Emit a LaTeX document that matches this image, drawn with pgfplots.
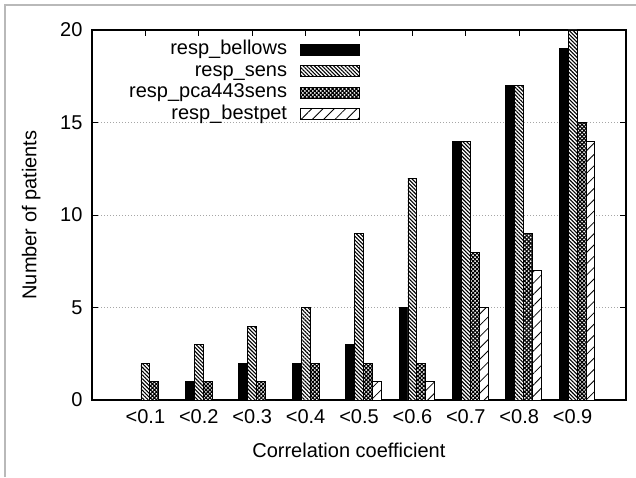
\documentclass[border=0pt]{standalone}
\usepackage{fontspec}
\setmainfont{Liberation Sans}
\usepackage{pgfplots}
\pgfplotsset{compat=1.18}
\usetikzlibrary{patterns.meta}
\newcommand{\fsz}{\fontsize{20}{23}\selectfont}

\pgfplotsset{
  boxleg/.style={legend image code/.code={\draw[##1, draw=black, line width=0.8pt] (0pt,-5.5pt) rectangle (59pt,5.5pt);}},
}

\begin{document}
\begin{tikzpicture}
\useasboundingbox (0,0) rectangle (636pt,477pt);
\draw[gray!55, line width=1.5pt] (5pt,0) -- (5pt,472pt) -- (636pt,472pt);
\begin{axis}[
    at={(92pt,77pt)}, anchor=south west,
    scale only axis,
    width=534pt, height=370pt,
    xmin=0, xmax=10,
    ymin=0, ymax=20,
    ybar,
    bar width=0.1667,
    xtick={1,2,3,4,5,6,7,8,9},
    xticklabels={{<0.1},{<0.2},{<0.3},{<0.4},{<0.5},{<0.6},{<0.7},{<0.8},{<0.9}},
    ytick={0,5,10,15,20},
    tick align=inside,
    major tick length=6pt,
    axis line style={line width=1.4pt},
    every tick/.style={black, line width=1pt},
    ymajorgrids,
    grid style={gray!70, line width=0.8pt, dash pattern=on 0.8pt off 2.2pt},
    /pgf/number format/assume math mode=true,
    tick label style={font=\fsz},
    xticklabel style={yshift=-6pt},
    yticklabel style={xshift=-6pt},
    label style={font=\fsz},
    xlabel={Correlation coefficient},
    ylabel={Number of patients},
    xlabel style={at={(axis description cs:0.481,-0.135)}, anchor=center},
    ylabel style={at={(axis description cs:-0.114,0.5)}, anchor=center},
    legend cell align=right,
    legend plot pos=right,
    legend style={at={(axis description cs:0.502,0.974)}, anchor=north east,
        draw=none, fill=none, font=\fsz, inner sep=0pt, row sep=1.5pt, column sep=12pt,
        nodes={inner sep=1pt, text height=14pt, text depth=4pt}},
]

\addplot[boxleg, fill=black, draw=black, line width=0.8pt, bar shift=-0.1667] coordinates {
    (1,0) (2,1) (3,2) (4,2) (5,3) (6,5) (7,14) (8,17) (9,19)
};
\addlegendentry{resp\_bellows}

\addplot[boxleg, fill=white, draw=black, line width=0.8pt, bar shift=0,
    postaction={pattern={Lines[angle=-45,distance=2.7pt,line width=1.1pt]}}] coordinates {
    (1,2) (2,3) (3,4) (4,5) (5,9) (6,12) (7,14) (8,17) (9,20)
};
\addlegendentry{resp\_sens}

\addplot[boxleg, fill=white, draw=black, line width=0.8pt, bar shift=0.1667,
    postaction={pattern={Hatch[angle=45,distance=2.8pt,line width=1.1pt]}}] coordinates {
    (1,1) (2,1) (3,1) (4,2) (5,2) (6,2) (7,8) (8,9) (9,15)
};
\addlegendentry{resp\_pca443sens}

\addplot[boxleg, fill=white, draw=black, line width=0.8pt, bar shift=0.3333,
    postaction={pattern={Lines[angle=45,distance=8pt,line width=0.8pt]}}] coordinates {
    (1,0) (2,0) (3,0) (4,0) (5,1) (6,1) (7,5) (8,7) (9,14)
};
\addlegendentry{resp\_bestpet}

\end{axis}
\end{tikzpicture}
\end{document}
